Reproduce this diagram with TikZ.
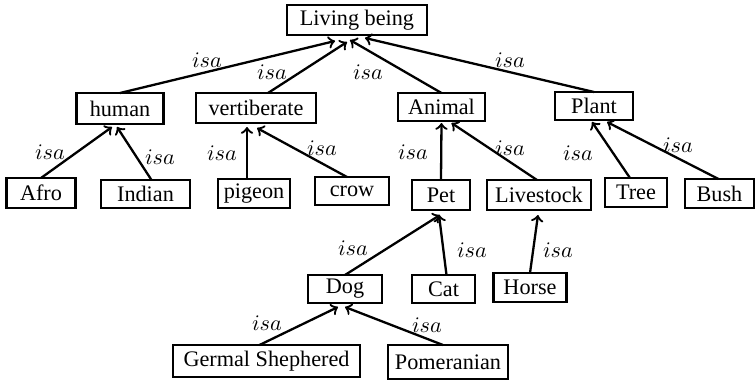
\documentclass[tikz,border=0pt]{standalone}
\usepackage{fontspec}
\setmainfont{Liberation Serif}
\usetikzlibrary{calc}
\newlength\pxu
\setlength\pxu{0.45pt}
\tikzset{
  box/.style args={#1/#2}{draw, line width=2.3\pxu, minimum width=#1*\pxu,
    minimum height=#2*\pxu, inner sep=0pt, outer sep=0pt},
  isa/.style={->, line width=2.3\pxu},
  lbl/.style={inner sep=0pt}
}
\begin{document}
\begin{tikzpicture}[x=\pxu, y=-\pxu]
\useasboundingbox (0,0) rectangle (756,382);
% concepts
\node[box=140/30] (lb) at (357,20) {Living being};
\node[box=87/31] (human) at (120,108.5) {human};
\node[box=120/30] (vert) at (256,108) {vertiberate};
\node[box=87/28] (animal) at (441.5,107) {Animal};
\node[box=78/28] (plant) at (594,106) {Plant};
\node[box=69/30] (afro) at (41,193) {Afro};
\node[box=89/28] (indian) at (145.5,194) {Indian};
\node[box=72/29] (pigeon) at (254,193.5) {pigeon};
\node[box=74/28] (crow) at (352,191) {crow};
\node[box=58/30] (pet) at (441,195) {Pet};
\node[box=104/30] (livestock) at (539,195) {Livestock};
\node[box=62/29] (tree) at (636,192.5) {Tree};
\node[box=69/29] (bush) at (719.5,193.5) {Bush};
\node[box=74/28] (dog) at (345,289) {Dog};
\node[box=63/28] (cat) at (443.5,289) {Cat};
\node[box=73/29] (horse) at (530,287.5) {Horse};
\node[box=187/32] (gs) at (266.5,361) {Germal Shephered};
\node[box=120/34] (pom) at (448,362) {Pomeranian};
% isa links
\draw[isa] (human.north) -- ($(lb.south)+(-22,6)$);
\draw[isa] ($(vert.north)+(12,0)$) -- ($(lb.south)+(-10,7)$);
\draw[isa] (animal.north) -- ($(lb.south)+(-7,5)$);
\draw[isa] (plant.north) -- ($(lb.south)+(8,3)$);
\draw[isa] (afro.north) -- ($(human.south)+(-8,3)$);
\draw[isa] ($(indian.north)+(6,0)$) -- ($(human.south)+(-3,3)$);
\draw[isa] ($(pigeon.north)+(-7,0)$) -- ($(vert.south)+(-9,4)$);
\draw[isa] ($(crow.north)+(-5,0)$) -- ($(vert.south)+(1,5)$);
\draw[isa] (pet.north) -- ($(animal.south)+(0,2)$);
\draw[isa] ($(livestock.north)+(-2,0)$) -- ($(animal.south)+(10,2)$);
\draw[isa] ($(tree.north)+(-6,0)$) -- ($(plant.south)+(-2,2)$);
\draw[isa] ($(bush.north)+(-1,0)$) -- ($(plant.south)+(13,2)$);
\draw[isa] (dog.north) -- ($(pet.south)+(-1,5)$);
\draw[isa] ($(cat.north)+(3,0)$) -- ($(pet.south)+(-2,5)$);
\draw[isa] (horse.north) -- ($(livestock.south)+(-1,5)$);
\draw[isa] ($(gs.north)+(-7,0)$) -- ($(dog.south)+(-7,4)$);
\draw[isa] ($(pom.north)+(-5,0)$) -- ($(dog.south)+(0,4)$);
% link labels
\node[lbl] (l1) at (207,60) {$isa$};
\node[lbl] (l2) at (272,72) {$isa$};
\node[lbl] (l3) at (368,72) {$isa$};
\node[lbl] (l4) at (510,60) {$isa$};
\node[lbl] (l5) at (50,152) {$isa$};
\node[lbl] (l6) at (160,157) {$isa$};
\node[lbl] (l7) at (222,153) {$isa$};
\node[lbl] (l8) at (322,148) {$isa$};
\node[lbl] (l9) at (413,152) {$isa$};
\node[lbl] (l10) at (510,148) {$isa$};
\node[lbl] (l11) at (578,153) {$isa$};
\node[lbl] (l12) at (678,145) {$isa$};
\node[lbl] (l13) at (353,248) {$isa$};
\node[lbl] (l14) at (472,250) {$isa$};
\node[lbl] (l15) at (558,250) {$isa$};
\node[lbl] (l16) at (267,323) {$isa$};
\node[lbl] (l17) at (427,325) {$isa$};
\end{tikzpicture}
\end{document}
